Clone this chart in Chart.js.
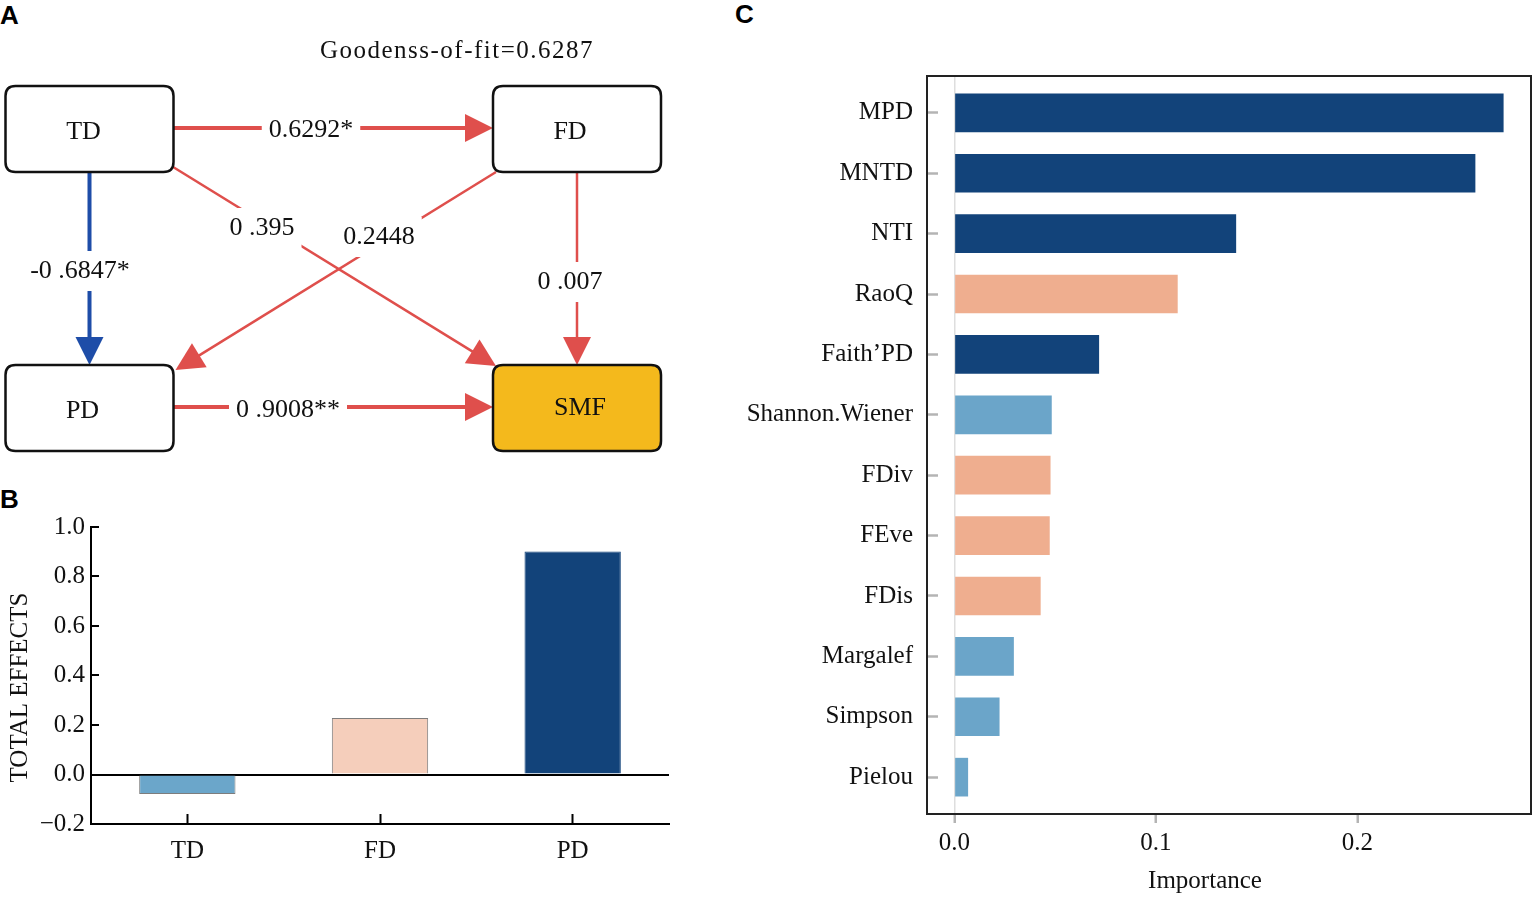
<!DOCTYPE html>
<html><head><meta charset="utf-8">
<script src="https://cdn.jsdelivr.net/npm/chart.js@4.4.1/dist/chart.umd.min.js"></script>
<style>
html,body{margin:0;padding:0;background:#fff;width:1536px;height:898px;overflow:hidden;}
.panel{position:absolute;}
.letter{position:absolute;font-family:'Liberation Sans',Arial,sans-serif;font-weight:bold;font-size:26px;color:#000;line-height:1;}
</style></head><body>
<div class="letter" style="left:0px;top:2px">A</div>
<div class="letter" style="left:0px;top:486px">B</div>
<div class="letter" style="left:735px;top:1px">C</div>
<div class="panel" style="left:0;top:0;width:700px;height:470px"><canvas id="cA"></canvas></div>
<div class="panel" style="left:0;top:480px;width:700px;height:418px"><canvas id="cB"></canvas></div>
<div class="panel" style="left:730px;top:40px;width:806px;height:858px"><canvas id="cC"></canvas></div>
<script>
// ---------------- DATA ----------------
// Panel A: structural equation model paths
const nodeNames   = ['TD', 'FD', 'PD', 'SMF'];
const pathFrom    = ['TD', 'TD', 'TD', 'FD', 'FD', 'PD'];
const pathTo      = ['FD', 'PD', 'SMF', 'PD', 'SMF', 'SMF'];
const pathCoef    = [0.6292, -0.6847, 0.395, 0.2448, 0.007, 0.9008];
const pathSig     = [true, true, false, false, false, true];
const pathLabels  = ['0.6292*', '-0 .6847*', '0 .395', '0.2448', '0 .007', '0 .9008**'];
const goodnessOfFit = '0.6287';

// Panel B: total effects
const effectCats   = ['TD', 'FD', 'PD'];
const totalEffects = [-0.079, 0.228, 0.901];
const effectTickValues = [-0.2, 0.0, 0.2, 0.4, 0.6, 0.8, 1.0];
const effectAxisTitle = 'TOTAL EFFECTS';

// Panel C: random forest importance
const featureNames = ['MPD', 'MNTD', 'NTI', 'RaoQ', 'Faith\u2019PD', 'Shannon.Wiener', 'FDiv', 'FEve', 'FDis', 'Margalef', 'Simpson', 'Pielou'];
const importance   = [0.2725, 0.2585, 0.1398, 0.1108, 0.0718, 0.0483, 0.0477, 0.0473, 0.0428, 0.0295, 0.0224, 0.0068];
const featureGroup = ['PD', 'PD', 'PD', 'FD', 'PD', 'TD', 'FD', 'FD', 'FD', 'TD', 'TD', 'TD'];
const importanceTicks = [0, 0.1, 0.2];
const importanceTitle = 'Importance';

// ---------------- STYLE / LAYOUT ----------------
const SERIF = '"Liberation Serif", "Times New Roman", serif';
const TXT = '#111';
const RED = '#DF4F4C', BLUE = '#1E4DA8', GOLD = '#F4B91C';
const groupColor = {PD: '#12437A', FD: '#EFAE8F', TD: '#6BA5C9'};
const effectFill = {TD: '#6BA6CA', FD: '#F5CEBB', PD: '#12437A'};
const effectEdge = {TD: '#7d7d7d', FD: '#7d7d7d', PD: '#12437A'};

const nodeLayout = {TD: {cx: 89.5, cy: 129}, FD: {cx: 577, cy: 129}, PD: {cx: 89.5, cy: 408}, SMF: {cx: 577, cy: 408}};
const nodeTextShift = {TD: [-6, 3], FD: [-7, 3], PD: [-7, 3], SMF: [3, 0]};
const BOX_W = 168, BOX_H = 86, BOX_R = 10;
const edgeAnchors = [['R', 'L'], ['B', 'T'], ['BR', 'TL'], ['BL', 'TR'], ['B', 'T'], ['R', 'L']];
const labelAt = [[311, 130], [80, 271], [262, 228], [379, 237], [570, 282], [288, 410]];

Chart.defaults.animation = false;
Chart.defaults.font.family = SERIF;

// ---------------- PANEL A ----------------
function anchor(n, side) {
  const L = nodeLayout[n];
  const l = L.cx - BOX_W / 2, r = L.cx + BOX_W / 2, t = L.cy - BOX_H / 2, b = L.cy + BOX_H / 2;
  switch (side) {
    case 'R': return [r, L.cy - 1];
    case 'L': return [l, L.cy - 1];
    case 'T': return [L.cx, t];
    case 'B': return [L.cx, b];
    case 'BR': return [r - 2, b - 6];
    case 'TL': return [l + 3, t + 1];
    case 'BL': return [l + 3, b];
    case 'TR': return [r + 2, t + 5];
  }
}
function roundRect(ctx, x, y, w, h, r) {
  ctx.beginPath();
  ctx.moveTo(x + r, y);
  ctx.lineTo(x + w - r, y); ctx.quadraticCurveTo(x + w, y, x + w, y + r);
  ctx.lineTo(x + w, y + h - r); ctx.quadraticCurveTo(x + w, y + h, x + w - r, y + h);
  ctx.lineTo(x + r, y + h); ctx.quadraticCurveTo(x, y + h, x, y + h - r);
  ctx.lineTo(x, y + r); ctx.quadraticCurveTo(x, y, x + r, y);
  ctx.closePath();
}
const semPlugin = {
  id: 'sem',
  afterDraw(chart) {
    const ctx = chart.ctx, sx = chart.scales.x, sy = chart.scales.y;
    const P = (x, y) => [sx.getPixelForValue(x), sy.getPixelForValue(y)];
    ctx.save();
    // edges
    pathFrom.forEach((f, i) => {
      const [a1, a2] = edgeAnchors[i];
      const [x1, y1] = P(...anchor(f, a1));
      const [x2, y2] = P(...anchor(pathTo[i], a2));
      const color = pathCoef[i] < 0 ? BLUE : RED;
      const width = pathSig[i] ? 4 : 2.5;
      const dx = x2 - x1, dy = y2 - y1, len = Math.hypot(dx, dy), ux = dx / len, uy = dy / len;
      const HL = 28, HW = 14;
      const bx = x2 - ux * HL, by = y2 - uy * HL;
      ctx.strokeStyle = color; ctx.lineWidth = width; ctx.lineCap = 'butt';
      ctx.beginPath(); ctx.moveTo(x1, y1); ctx.lineTo(bx + ux * 2, by + uy * 2); ctx.stroke();
      ctx.fillStyle = color;
      ctx.beginPath(); ctx.moveTo(x2, y2);
      ctx.lineTo(bx - uy * HW, by + ux * HW); ctx.lineTo(bx + uy * HW, by - ux * HW);
      ctx.closePath(); ctx.fill();
    });
    // labels with white gap
    ctx.font = '26px ' + SERIF;
    ctx.textAlign = 'center'; ctx.textBaseline = 'middle';
    pathLabels.forEach((t, i) => {
      const [lx, ly] = P(...labelAt[i]);
      const w = ctx.measureText(t).width + 14;
      ctx.fillStyle = '#fff';
      ctx.fillRect(lx - w / 2, ly - 20, w, 40);
      ctx.fillStyle = TXT;
      ctx.fillText(t, lx, ly);
    });
    // boxes
    nodeNames.forEach(n => {
      const L = nodeLayout[n];
      const [px, py] = P(L.cx - BOX_W / 2, L.cy - BOX_H / 2);
      roundRect(ctx, px, py, BOX_W, BOX_H, BOX_R);
      ctx.fillStyle = n === 'SMF' ? GOLD : '#fff';
      ctx.fill();
      ctx.strokeStyle = '#111'; ctx.lineWidth = 2.5; ctx.stroke();
      ctx.fillStyle = TXT; ctx.font = '26px ' + SERIF;
      const [cx, cy] = P(L.cx + nodeTextShift[n][0], L.cy + nodeTextShift[n][1]);
      ctx.fillText(n, cx, cy);
    });
    // title
    ctx.font = '25px ' + SERIF;
    ctx.letterSpacing = '1.5px';
    const [tx, ty] = P(457, 51);
    ctx.fillText('Goodenss-of-fit=' + goodnessOfFit, tx, ty);
    ctx.restore();
  }
};
new Chart(document.getElementById('cA'), {
  type: 'scatter',
  data: {datasets: [{data: nodeNames.map(n => ({x: nodeLayout[n].cx, y: nodeLayout[n].cy})), pointRadius: 0}]},
  options: {
    responsive: true, maintainAspectRatio: false,
    layout: {padding: 0},
    plugins: {legend: {display: false}, tooltip: {enabled: false}},
    scales: {
      x: {type: 'linear', min: 0, max: 700, display: false},
      y: {type: 'linear', min: 0, max: 470, reverse: true, display: false}
    }
  },
  plugins: [semPlugin]
});

// ---------------- PANEL B ----------------
const yTitleB = {
  id: 'yTitleB',
  afterDraw(c) {
    const ctx = c.ctx, a = c.chartArea;
    ctx.save();
    ctx.font = '25px ' + SERIF; ctx.fillStyle = TXT;
    ctx.textAlign = 'center'; ctx.textBaseline = 'middle';
    ctx.translate(20, (a.top + a.bottom) / 2 + 12);
    ctx.rotate(-Math.PI / 2);
    ctx.fillText(effectAxisTitle, 0, 0);
    ctx.restore();
  }
};
new Chart(document.getElementById('cB'), {
  type: 'bar',
  data: {
    labels: effectCats,
    datasets: [{
      data: totalEffects,
      backgroundColor: effectCats.map(c => effectFill[c]),
      borderColor: effectCats.map(c => effectEdge[c]),
      borderWidth: 1,
      barPercentage: 0.5, categoryPercentage: 1
    }]
  },
  options: {
    responsive: true, maintainAspectRatio: false,
    layout: {padding: {top: 47, right: 31, left: 0, bottom: 0}},
    plugins: {legend: {display: false}, tooltip: {enabled: false}},
    scales: {
      x: {
        offset: true,
        grid: {display: true, drawOnChartArea: false, offset: false, tickLength: -10, tickColor: '#000', tickWidth: 2},
        border: {display: true, color: '#000', width: 2},
        ticks: {font: {size: 25, family: SERIF}, color: TXT, padding: 22},
        afterFit: s => { s.height = 74; }
      },
      y: {
        z: 1,
        min: -0.2, max: 1.0,
        afterBuildTicks: s => { s.ticks = effectTickValues.map(v => ({value: v})); },
        ticks: {
          font: {size: 25, family: SERIF}, color: TXT, padding: 14,
          callback: v => (v < -1e-9 ? '\u2212' : '') + Math.abs(v).toFixed(1)
        },
        grid: {
          color: ctx => (ctx.tick && Math.abs(ctx.tick.value) < 1e-9) ? '#000' : 'rgba(0,0,0,0)',
          lineWidth: 2, tickLength: -8, tickColor: '#000', tickWidth: 2
        },
        border: {display: true, color: '#000', width: 2},
        afterFit: s => { s.width = 91; }
      }
    }
  },
  plugins: [yTitleB]
});

// ---------------- PANEL C ----------------
const boxPlugin = {
  id: 'box',
  afterDraw(c) {
    const ctx = c.ctx, a = c.chartArea;
    ctx.save(); ctx.strokeStyle = '#222'; ctx.lineWidth = 2;
    ctx.strokeRect(a.left, a.top, a.right - a.left, a.bottom - a.top);
    ctx.font = '25px ' + SERIF; ctx.fillStyle = TXT;
    ctx.textAlign = 'center'; ctx.textBaseline = 'middle';
    ctx.fillText(importanceTitle, (a.left + a.right) / 2 - 24, a.bottom + 67);
    ctx.restore();
  }
};
new Chart(document.getElementById('cC'), {
  type: 'bar',
  data: {
    datasets: [{
      data: importance.map((v, i) => ({x: v, y: i})),
      backgroundColor: featureGroup.map(g => groupColor[g]),
      borderWidth: 0,
      barPercentage: 0.64, categoryPercentage: 1
    }]
  },
  options: {
    indexAxis: 'y',
    responsive: true, maintainAspectRatio: false,
    layout: {padding: {top: 36, right: 5, left: 0, bottom: 0}},
    plugins: {legend: {display: false}, tooltip: {enabled: false}},
    scales: {
      y: {
        type: 'linear', reverse: true, min: -0.61, max: 11.61, offset: false,
        afterBuildTicks: s => { s.ticks = featureNames.map((_, i) => ({value: i})); },
        ticks: {font: {size: 25, family: SERIF}, color: TXT, padding: 25, autoSkip: false,
                callback: v => featureNames[Math.round(v)]},
        grid: {drawOnChartArea: false, offset: false, tickLength: -11, tickColor: '#b4b4b4', tickWidth: 2.5},
        border: {display: false},
        afterFit: s => { s.width = 197; s.paddingTop = 0; s.paddingBottom = 0; }
      },
      x: {
        type: 'linear', min: -0.0136, max: 0.2861, offset: false,
        afterBuildTicks: s => { s.ticks = importanceTicks.map(v => ({value: v})); },
        ticks: {font: {size: 25, family: SERIF}, color: TXT, padding: 5, callback: v => v.toFixed(1)},
        grid: {
          offset: false,
          color: ctx => (ctx.tick && Math.abs(ctx.tick.value) < 1e-9) ? '#dedede' : 'rgba(0,0,0,0)',
          lineWidth: 1.5, tickLength: 9, tickColor: '#b4b4b4', tickWidth: 2.5
        },
        border: {display: false},
        afterFit: s => { s.height = 84; s.paddingLeft = 0; s.paddingRight = 0; }
      }
    }
  },
  plugins: [boxPlugin]
});
</script>
</body></html>
